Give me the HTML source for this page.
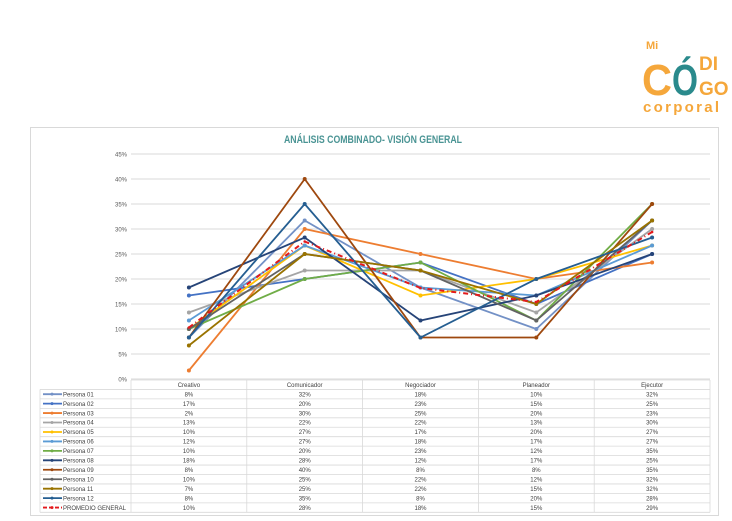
<!DOCTYPE html>
<html><head><meta charset="utf-8"><style>
body{margin:0;width:732px;height:521px;background:#fff;overflow:hidden;font-family:"Liberation Sans",sans-serif}
svg{position:absolute;left:0;top:0}
</style></head><body>
<svg id="c" width="732" height="521">
<g>
<text x="646" y="49" font-size="11" font-weight="bold" fill="#f5a73b">Mi</text>
<text x="642" y="95" font-size="44" font-weight="bold" fill="#f5a73b" textLength="30" lengthAdjust="spacingAndGlyphs">C</text>
<text x="672" y="95" font-size="44" font-weight="bold" fill="#2a8a8c" textLength="26" lengthAdjust="spacingAndGlyphs">Ó</text>
<text x="699" y="70" font-size="19" font-weight="bold" fill="#f5a73b">DI</text>
<text x="699" y="95" font-size="19" font-weight="bold" fill="#f5a73b">GO</text>
<text x="643" y="112" font-size="15" font-weight="bold" fill="#f5a73b" textLength="76" lengthAdjust="spacing">corporal</text>
</g>
<rect x="30.5" y="127.5" width="688" height="388" fill="none" stroke="#d9d9d9"/>
<text x="284" y="143" font-size="11" font-weight="bold" fill="#4a9494" textLength="178" lengthAdjust="spacingAndGlyphs">ANÁLISIS COMBINADO- VISIÓN GENERAL</text>
<g id="grid"></g><g id="lines"></g><g id="table"></g>
</svg>
<script>
const categories=["Creativo","Comunicador","Negociador","Planeador","Ejecutor"];
const seriesNames=["Persona 01","Persona 02","Persona 03","Persona 04","Persona 05","Persona 06","Persona 07","Persona 08","Persona 09","Persona 10","Persona 11","Persona 12","PROMEDIO GENERAL"];
const p01=[8.3,31.7,18.3,10,31.7];
const p02=[16.7,20,23.3,15,25];
const p03=[1.7,30,25,20,23.3];
const p04=[13.3,21.7,21.7,13.3,30];
const p05=[10,26.7,16.7,20,26.7];
const p06=[11.7,26.7,18.3,16.7,26.7];
const p07=[10,20,23.3,11.7,35];
const p08=[18.3,28.3,11.7,16.7,25];
const p09=[8.3,40,8.3,8.3,35];
const p10=[10,25,21.7,11.7,31.7];
const p11=[6.7,25,21.7,15,31.7];
const p12=[8.3,35,8.3,20,28.3];
const prom=[10.3,27.5,18.2,15.4,29.4];
const yTicks=[0,5,10,15,20,25,30,35,40,45];
const allSeries=[p01,p02,p03,p04,p05,p06,p07,p08,p09,p10,p11,p12,prom];
const colors=["#7391c6","#4472c4","#ed7d31","#a5a5a5","#ffc000","#5b9bd5","#70ad47","#264478","#9e480e","#636363","#997300","#255e91","#e31a1c"];
const NS="http://www.w3.org/2000/svg";
const x0=131,colW=115.8,yBase=379,yTop=154,yMax=45;
const X=i=>x0+colW*(i+0.5);
const Y=v=>yBase-(v/yMax)*(yBase-yTop);
function mk(t,a,p){const e=document.createElementNS(NS,t);for(const k in a)e.setAttribute(k,a[k]);p.appendChild(e);return e;}
const grid=document.getElementById('grid');
yTicks.forEach(t=>{
 const l=mk('line',{x1:x0,x2:x0+colW*5,y1:Y(t),y2:Y(t),stroke:'#d9d9d9','stroke-width':1},grid);
 
 
 const tx=mk('text',{x:127,y:Y(t)+2.5,'font-size':6,fill:'#595959','text-anchor':'end'},grid);
 tx.textContent=t+'%';
 
 
});
const lines=document.getElementById('lines');
allSeries.forEach((s,k)=>{
 const avg=k===12;
 const pl=mk('polyline',{points:s.map((v,i)=>X(i)+','+Y(v)).join(' '),fill:'none',stroke:colors[k],'stroke-width':avg?2:1.8,'stroke-dasharray':avg?'5,3,1,3':'none'},lines);
 
 
 s.forEach((v,i)=>{
  const c=mk('circle',{cx:X(i),cy:Y(v),r:avg?1.3:2,fill:colors[k]},lines);
  
  
 });
});
const tb=document.getElementById('table');
const tTop=380,rowH=9.45,legX=40;
const nRows=seriesNames.length+1;
for(let r=0;r<=nRows;r++){
 const y=tTop+r*rowH;
 mk('line',{x1:r===0?x0:legX,x2:x0+colW*5,y1:y,y2:y,stroke:'#d9d9d9','stroke-width':0.8},tb);
}
for(let c=0;c<=5;c++){mk('line',{x1:x0+colW*c,x2:x0+colW*c,y1:tTop,y2:tTop+nRows*rowH,stroke:'#d9d9d9','stroke-width':0.8},tb);}
mk('line',{x1:legX,x2:legX,y1:tTop+rowH,y2:tTop+nRows*rowH,stroke:'#d9d9d9','stroke-width':0.8},tb);
categories.forEach((c,i)=>{
 const t=mk('text',{x:X(i),y:tTop+7,'font-size':6,fill:'#404040','text-anchor':'middle'},tb);
 t.textContent=c;
 
 
});
seriesNames.forEach((n,k)=>{
 const y=tTop+(k+1)*rowH+rowH/2;
 const ln=mk('line',{x1:43,x2:62,y1:y,y2:y,stroke:colors[k],'stroke-width':1.8,'stroke-dasharray':k===12?'4,2':'none'},tb);
 
 
 mk('circle',{cx:52,cy:y,r:1.5,fill:colors[k]},tb);
 const t=mk('text',{x:63,y:y+2.2,'font-size':6,fill:'#404040'},tb);
 t.textContent=n;
 
 
 allSeries[k].forEach((v,i)=>{
  const d=mk('text',{x:X(i),y:y+2.2,'font-size':6,fill:'#404040','text-anchor':'middle'},tb);
  d.textContent=Math.round(v)+'%';
  
  
 });
});
</script>
</body></html>
